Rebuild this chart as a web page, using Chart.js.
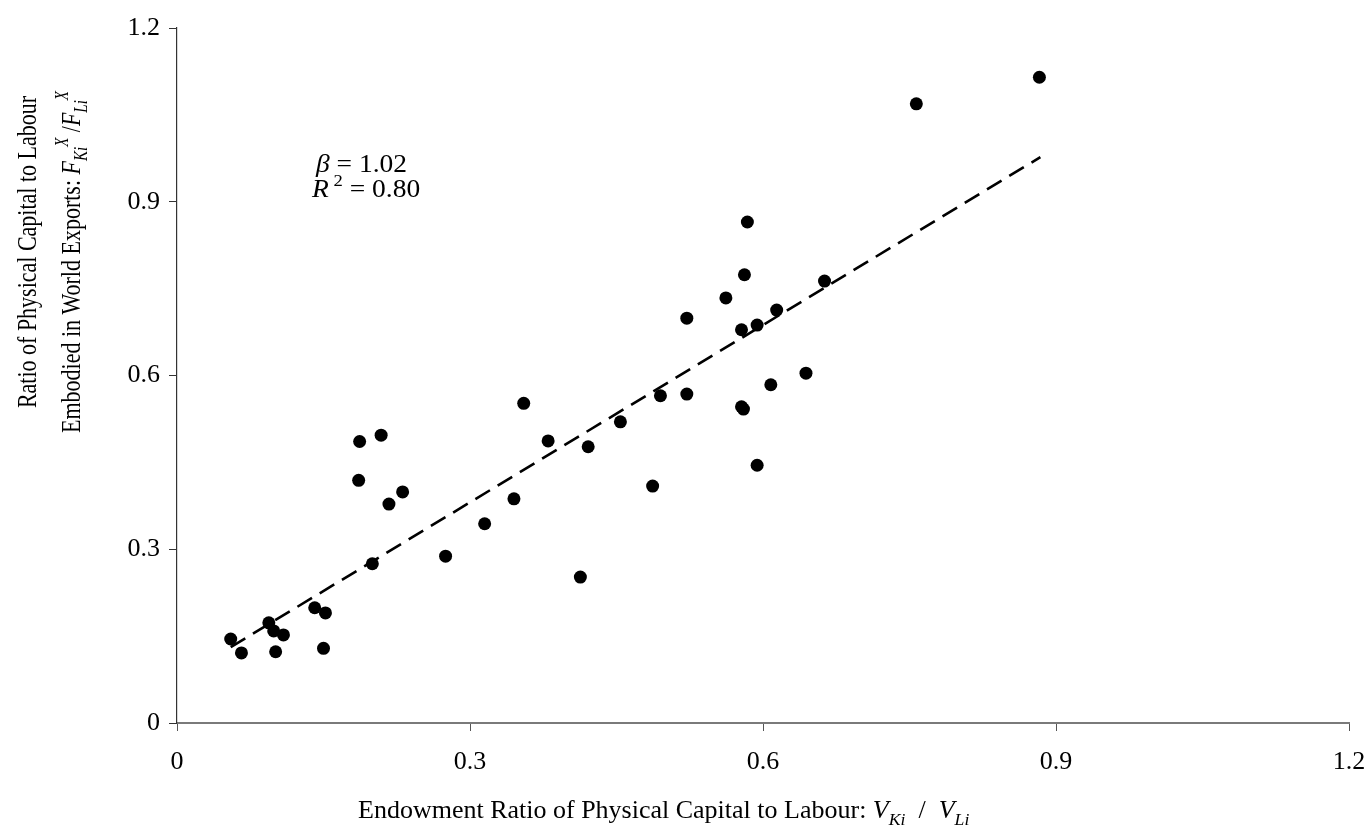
<!DOCTYPE html>
<html>
<head>
<meta charset="utf-8">
<script src="https://cdn.jsdelivr.net/npm/chart.js@4"></script>
<style>
  html, body { margin: 0; padding: 0; background: #fff; }
  #wrap { width: 1370px; height: 837px; }
</style>
</head>
<body>
<div id="wrap"><canvas id="capitalChart"></canvas></div>
<script>
// endowment ratio (x) and export factor-content ratio (y) for each country
const endowment = [
  0.055, 0.066, 0.094, 0.099, 0.109, 0.101, 0.141, 0.152, 0.150,
  0.187, 0.209, 0.186, 0.217, 0.231, 0.200, 0.275, 0.315, 0.345,
  0.355, 0.380, 0.413, 0.421, 0.454, 0.487, 0.495, 0.522, 0.522,
  0.562, 0.581, 0.584, 0.578, 0.594, 0.614, 0.663, 0.578, 0.580,
  0.608, 0.644, 0.594, 0.757, 0.883
];
const exportRatio = [
  0.145, 0.121, 0.173, 0.159, 0.152, 0.123, 0.199, 0.190, 0.129,
  0.486, 0.497, 0.419, 0.378, 0.399, 0.275, 0.288, 0.344, 0.387,
  0.552, 0.487, 0.252, 0.477, 0.520, 0.409, 0.565, 0.568, 0.699,
  0.734, 0.774, 0.865, 0.679, 0.687, 0.713, 0.763, 0.546, 0.542,
  0.584, 0.604, 0.445, 1.069, 1.115
];

// fitted line endpoints
const fitX = [0.055, 0.884];
const fitY = [0.131, 0.977];

const tickValues = [0, 0.3, 0.6, 0.9, 1.2];
const beta = '1.02';
const rSquared = '0.80';

const serif = '"Liberation Serif", "Times New Roman", serif';

const points = endowment.map((x, i) => ({ x: x, y: exportRatio[i] }));
const fitLine = fitX.map((x, i) => ({ x: x, y: fitY[i] }));

// draws a run of [text, italic, shift] pieces; shift: 0 normal, -1 sub, 1 sup
function drawRich(ctx, parts, x, y, size) {
  let cx = x;
  parts.forEach(p => {
    const fs = p[2] !== 0 ? Math.round(size * 0.68) : size;
    ctx.font = (p[1] ? 'italic ' : '') + fs + 'px ' + serif;
    let dy = 0;
    if (p[2] === -1) dy = size * 0.28;
    if (p[2] === 1) dy = -size * 0.45;
    ctx.fillText(p[0], cx, y + dy);
    cx += ctx.measureText(p[0]).width;
  });
  return cx - x;
}

function richWidth(ctx, parts, size) {
  let w = 0;
  parts.forEach(p => {
    const fs = p[2] !== 0 ? Math.round(size * 0.68) : size;
    ctx.font = (p[1] ? 'italic ' : '') + fs + 'px ' + serif;
    w += ctx.measureText(p[0]).width;
  });
  return w;
}

// horizontal text, slightly widened like the printed figure
function drawWide(ctx, parts, x, y, size, stretch) {
  ctx.save();
  ctx.translate(x, y);
  ctx.scale(stretch, 1);
  drawRich(ctx, parts, 0, 0, size);
  ctx.restore();
}

// rotated axis title line, centred on (cx, cy)
function drawUp(ctx, parts, cx, cy, size, thick) {
  ctx.save();
  ctx.translate(cx, cy);
  ctx.rotate(-Math.PI / 2);
  ctx.scale(1, thick);
  drawRich(ctx, parts, -richWidth(ctx, parts, size) / 2, 0, size);
  ctx.restore();
}

const labelsPlugin = {
  id: 'labels',
  afterDraw(chart) {
    const ctx = chart.ctx;
    ctx.save();
    ctx.fillStyle = '#000';
    ctx.textBaseline = 'alphabetic';
    ctx.textAlign = 'left';

    // x axis title
    const xParts = [
      ['Endowment Ratio of Physical Capital to Labour: ', false, 0],
      ['V', true, 0], ['Ki', true, -1], ['  /  ', false, 0],
      ['V', true, 0], ['Li', true, -1]
    ];
    drawWide(ctx, xParts, 358, 818, 25, 1.04);

    // y axis title, two rotated lines
    const line1 = [['Ratio of Physical Capital to Labour', false, 0]];
    const line2 = [
      ['Embodied in World Exports: ', false, 0],
      ['F', true, 0], ['Ki', true, -1], ['X', true, 1], [' /', false, 0],
      ['F', true, 0], ['Li', true, -1], ['X', true, 1]
    ];
    drawUp(ctx, line1, 36, 252, 22, 1.2);
    drawUp(ctx, line2, 80, 262, 22, 1.2);

    // regression statistics
    drawWide(ctx, [['\u03B2', true, 0], [' = ' + beta, false, 0]], 316, 172, 25, 1.1);
    drawWide(ctx, [['R', true, 0], [' 2', false, 1], [' = ' + rSquared, false, 0]], 312, 197, 25, 1.1);
    ctx.restore();
  }
};

new Chart(document.getElementById('capitalChart'), {
  type: 'scatter',
  data: {
    datasets: [
      {
        label: 'Countries',
        data: points,
        backgroundColor: '#000',
        borderWidth: 0,
        pointRadius: 6.5,
        pointHoverRadius: 6.5
      },
      {
        label: 'Fit',
        type: 'line',
        data: fitLine,
        borderColor: '#000',
        borderWidth: 2.6,
        borderDash: [17, 9],
        pointRadius: 0,
        fill: false
      }
    ]
  },
  options: {
    responsive: true,
    maintainAspectRatio: false,
    animation: false,
    layout: { padding: { top: 28, right: 21, left: 0, bottom: 0 } },
    plugins: {
      legend: { display: false },
      tooltip: { enabled: false }
    },
    scales: {
      x: {
        type: 'linear',
        min: 0,
        max: 1.2,
        afterBuildTicks: scale => { scale.ticks = tickValues.map(v => ({ value: v })); },
        afterFit: scale => {
          scale.height = 114;
          scale.paddingLeft = 0;
          scale.paddingRight = 0;
        },
        border: { color: '#7a7a7a', width: 2 },
        grid: { drawOnChartArea: false, drawTicks: true, tickLength: 8, color: '#555' },
        ticks: {
          color: '#000',
          padding: 16,
          font: { family: serif, size: 26 },
          maxRotation: 0,
          callback: v => String(v)
        }
      },
      y: {
        type: 'linear',
        min: 0,
        max: 1.2,
        afterBuildTicks: scale => { scale.ticks = tickValues.map(v => ({ value: v })); },
        afterFit: scale => {
          scale.width = 177;
          scale.paddingTop = 0;
          scale.paddingBottom = 0;
        },
        border: { color: '#333', width: 1.2 },
        grid: { drawOnChartArea: false, drawTicks: true, tickLength: 8, color: '#333' },
        ticks: {
          color: '#000',
          padding: 9,
          font: { family: serif, size: 26 },
          callback: v => String(v)
        }
      }
    }
  },
  plugins: [labelsPlugin]
});
</script>
</body>
</html>
